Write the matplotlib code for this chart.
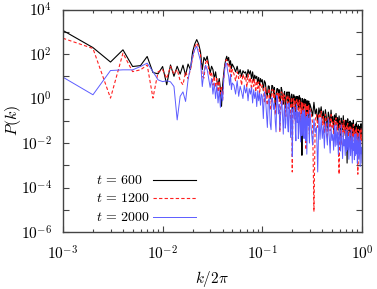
import numpy as np
import matplotlib
matplotlib.use("Agg")
import matplotlib.pyplot as plt

plt.rcParams['mathtext.fontset'] = 'cm'
plt.rcParams['font.family'] = ['DejaVu Serif']

# wavenumber grid k/2pi (sampling segments)
k_a = np.arange(1, 51) * 0.001
k_b = np.arange(52, 101, 2) * 0.001
k_c1 = np.arange(1025, 3001, 25) * 1e-4
k_c2 = np.arange(31, 101) * 0.01
k = np.concatenate([k_a, k_b, k_c1, k_c2])

# log10 P(k)
log_p600 = """
3.06 2.29 1.64 2.19 1.44 1.48 1.89 1.17 1.11 1.44
0.62 1.51 1.00 1.45 1.10 1.50 1.05 1.55 1.30 2.10
2.45 2.65 2.45 2.10 1.30 1.85 1.70 1.90 1.50 1.15
1.45 1.30 0.90 1.20 0.80 0.60 0.90 0.45 -0.35 0.60
1.10 1.50 1.75 1.90 1.70 1.85 1.50 1.70 1.35 1.55
1.4 1.2 1.45 1.1 1.3 1.0 1.25 1.15 1.2 0.95
1.3 1.1 1.25 0.9 1.2 0.8 1.05 0.9 1.0 0.7
0.95 0.6 0.9 0.75 0.85
0.35 0.80 0.70 0.26 0.10 0.57 0.55 -0.02 0.20 0.59
0.55 0.21 0.50 -0.33 0.05 0.44 0.45 0.21 0.40 -0.12
-0.10 0.50 0.38 -0.03 -0.25 0.20 0.32 -0.43 -0.15 0.24
0.30 -0.03 -0.20 0.30 0.26 -0.23 -0.35 0.10 0.20 -0.47
-0.05 0.15 0.17 -0.22 0.10 -0.74 -0.40 0.04 0.10 -0.18
0.08 -0.50 -0.45 0.13 0.05 -0.39 0.02 -0.15 -0.55 -2.55
0.00 -0.09 -0.60 -0.36 -0.05 -0.02 -0.25 -0.54 -0.05 -0.21
-0.45 -0.77 -0.10 -0.14 -0.60 -0.50 -0.11 -1.02 -0.55 -0.23
-0.46 -0.79 -0.17 -0.69 -0.47 -1.09 -0.42 -0.69 -0.37 -0.89
-0.56 -1.13 -0.50 -0.87 -1.39 -0.61 -0.83 -1.15 -0.52 -1.04
-0.80 -1.42 -0.74 -1.00 -0.67 -1.19 -0.85 -1.42 -0.78 -1.15
-1.66 -0.88 -1.09 -1.40 -0.77 -1.28 -1.05 -1.66 -0.97 -1.23
-2.90 -0.91 -1.42 -1.08 -1.65 -1.01 -1.37 -1.88 -1.09 -1.30
-1.61 -0.97 -1.48 -1.25 -1.86 -1.17 -1.43 -1.09 -1.60 -1.26
-1.82 -1.18 -1.53 -2.04 -1.25 -1.46 -1.77 -1.13 -1.64 -1.40
"""

log_p1200 = """
2.71 2.25 0.02 2.04 1.21 1.29 1.51 0.02 1.20 1.30
0.90 1.45 1.10 1.30 0.80 0.62 1.20 0.90 1.30 1.80
2.30 2.50 2.30 1.95 1.00 0.92 1.60 1.75 1.30 1.00
1.20 0.60 1.00 0.50 0.90 0.30 0.80 0.20 0.50 -0.10
0.90 1.40 1.70 1.75 1.50 1.60 1.20 1.45 1.00 1.30
1.1 0.8 1.2 0.9 1.05 0.6 1.1 0.85 1.0 0.5
1.1 0.7 0.95 0.4 0.9 0.55 0.85 0.3 0.8 0.45
0.75 0.2 0.65 0.5 0.6
0.55 -0.20 0.50 -0.04 -0.30 0.32 0.45 -0.42 -0.50 0.39
0.40 0.01 0.35 -0.73 -0.40 0.24 0.30 0.01 0.25 -1.50
-0.60 0.30 0.25 -0.28 0.20 -0.05 0.15 -0.63 -0.80 -0.01
0.15 -0.23 -0.45 0.10 0.10 -0.53 -0.95 -0.15 0.05 -3.30
-0.70 -0.05 0.00 -0.42 -0.05 -1.14 -1.00 -0.16 -0.05 -0.38
-0.10 -0.80 -0.85 -0.07 -0.10 -0.64 -1.30 -0.40 -0.15 -0.97
-0.20 -0.34 -0.90 -0.56 -0.20 -0.22 -0.25 -0.84 -0.25 -2.30
-0.30 -1.17 -1.10 -0.34 -0.30 -0.70 -0.30 -1.42 -1.60 -0.43
-0.66 -1.09 -5.08 -0.94 -0.72 -1.29 -0.67 -0.89 -0.57 -1.19
-0.81 -1.53 -0.70 -1.07 -1.79 -0.81 -1.03 -1.45 -0.72 -1.29
-1.05 -1.62 -0.99 -1.20 -0.87 -1.49 -1.10 -1.82 -3.40 -1.00
-1.36 -2.08 -1.09 -1.30 -1.72 -0.98 -1.55 -1.31 -1.87 -1.23
-1.45 -1.11 -1.72 -1.33 -2.05 -1.21 -1.57 -2.28 -1.29 -1.50
-1.91 -1.17 -1.73 -1.50 -2.06 -1.42 -1.63 -1.29 -1.90 -1.51
-3.40 -1.38 -1.73 -2.44 -1.45 -1.66 -2.07 -1.33 -1.89 -1.65
"""

log_p2000 = """
0.96 0.17 1.26 1.29 1.29 1.44 1.59 1.21 0.84 0.76
0.80 0.75 0.54 -0.96 0.10 0.30 -0.13 0.84 1.40 1.90
2.20 2.35 2.00 1.70 0.54 1.20 1.50 1.30 0.90 0.50
0.90 0.20 0.70 0.00 0.60 -0.20 0.40 -0.40 0.30 -0.10
0.80 1.30 1.60 1.55 1.20 1.00 0.60 1.10 0.40 0.70
0.6 0.2 0.8 0.1 0.55 0.3 0.0 0.6 0.25 0.5
-0.1 0.45 0.2 0.5 -0.2 0.4 0.0 0.3 -0.36 0.35
-0.1 0.25 -0.3 0.2 0.1
-0.90 0.30 0.10 -0.64 -1.30 -0.08 0.00 -1.12 -1.40 0.04
-0.10 -0.49 -0.20 -1.03 -1.50 0.14 -0.05 -0.69 -0.25 -1.42
-0.80 -0.25 -0.10 -0.88 -1.60 -0.60 -0.30 -1.33 -1.10 -0.21
-0.30 -1.18 -1.50 -0.20 -0.40 -1.13 -1.75 -0.55 -0.45 -2.60
-1.20 -0.40 -0.40 -0.92 -0.60 -1.44 -1.90 -0.26 -0.50 -1.08
-0.60 -1.80 -1.50 -0.62 -0.60 -1.24 -1.95 -0.95 -0.70 -1.67
-1.40 -0.54 -0.70 -1.51 -1.80 -0.52 -0.75 -1.44 -1.90 -0.86
-0.80 -2.50 -1.60 -0.69 -0.85 -1.20 -0.90 -1.72 -2.00 -0.53
-1.36 -2.09 -0.92 -1.54 -1.27 -3.30 -0.87 -1.84 -0.87 -1.79
-1.21 -2.23 -1.05 -1.57 -2.09 -0.91 -1.73 -2.45 -1.27 -1.89
-1.60 -2.32 -1.19 -2.15 -1.17 -2.09 -1.50 -2.52 -1.33 -1.85
-2.36 -1.18 -1.99 -2.70 -1.52 -2.13 -1.85 -2.56 -1.42 -2.38
-1.40 -2.31 -1.72 -2.73 -1.55 -2.06 -2.57 -1.38 -2.19 -2.90
-1.71 -2.32 -2.03 -2.75 -1.61 -2.57 -1.58 -2.49 -1.90 -2.91
-1.72 -2.23 -2.73 -1.54 -2.35 -3.06 -1.87 -2.48 -2.19 -2.90
"""

labels = [r"$t\,=\,600$", r"$t\,=\,1200$", r"$t\,=\,2000$"]
colors = ['black', '#ff2020', '#5c5cff']
styles = ['-', (0, (3, 2)), '-']
widths = [0.8, 0.8, 0.7]

p600 = 10 ** np.array(log_p600.split(), float)
p1200 = 10 ** np.array(log_p1200.split(), float)
p2000 = 10 ** np.array(log_p2000.split(), float)

fig = plt.figure(figsize=(3.77, 2.89), dpi=100)
ax = fig.add_axes([0.167, 0.197, 0.793, 0.770])

for p, c, ls, lw in zip([p600, p1200, p2000], colors, styles, widths):
    ax.plot(k, p, color=c, lw=lw, ls=ls)

ax.set_xscale('log')
ax.set_yscale('log')
ax.set_xlim(1e-3, 1)
ax.set_ylim(1e-6, 1e4)

ax.set_yticks([10.0 ** e for e in range(-6, 5)])
ax.set_yticklabels([r"$10^{%d}$" % e if e % 2 == 0 else "" for e in range(-6, 5)])
ax.yaxis.set_minor_locator(matplotlib.ticker.NullLocator())
ax.set_xticks([1e-3, 1e-2, 1e-1, 1])
ax.set_xticklabels([r"$10^{-3}$", r"$10^{-2}$", r"$10^{-1}$", r"$10^{0}$"])

ax.tick_params(which='both', direction='in', top=True, right=True,
               labelsize=11, color='#444444', width=0.8)
ax.tick_params(which='major', length=4)
ax.tick_params(which='minor', length=2.5)
ax.tick_params(axis='x', which='major', pad=9)
ax.tick_params(axis='y', which='major', pad=8)
for s in ax.spines.values():
    s.set_color('#444444')
    s.set_linewidth(1.0)

ax.set_ylabel(r"$P(k)$", fontsize=11.5)
ax.yaxis.set_label_coords(-0.135, 0.5)
ax.set_xlabel(r"$k/2\pi$", fontsize=11)
ax.xaxis.set_label_coords(0.5, -0.165)

# key (gnuplot style: left-aligned text, sample line to the right)
row_y = [0.234, 0.151, 0.069]
for lab, c, ls, lw, yy in zip(labels, colors, styles, widths, row_y):
    ax.text(0.110, yy, lab, transform=ax.transAxes, fontsize=10,
            ha='left', va='center')
    ax.plot([0.301, 0.444], [yy, yy], transform=ax.transAxes,
            color=c, ls=ls, lw=lw)

fig.savefig('out.png', dpi=100)
